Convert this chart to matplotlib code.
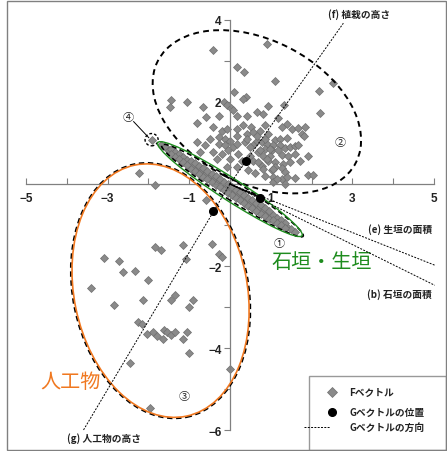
import matplotlib
matplotlib.use("Agg")
import matplotlib.pyplot as plt
from matplotlib.patches import Ellipse, Rectangle
from matplotlib.lines import Line2D

JP = ["Noto Sans CJK JP", "DejaVu Sans"]
NUM = ["Liberation Sans Narrow", "Liberation Sans", "DejaVu Sans"]

# F vectors: cluster 2 (upper, planting)
upper_x = [-0.42, 0.90, 0.17, 0.35, 1.11, 2.53, 2.19, 0.11, 0.39, 0.33, -1.44, -1.47, -1.06,
           -0.65, -0.14, -0.06, 0.02, 0.08, 2.21, 0.66, 0.82, 0.94, 1.32, 1.18, -0.58, -0.28,
           0.18, 0.43, -0.81, -0.41, -0.20, -0.06, 0.18, 0.33, 0.51, -0.49, -0.28, -0.12, 0.00,
           0.17, 0.41, 0.57, -0.81, -0.61, -0.28, -0.12, 0.08, 0.18, 0.37, 0.57, -0.41, -0.20,
           -0.04, 0.21, 0.49, 0.00, 0.29, 0.57, -0.32, -0.73, -0.08, 0.17, 0.86, 0.74, 1.41,
           1.27, 1.53, 1.66, 1.84, 1.76, 1.82, 0.94, 1.10, 1.23, 1.39, 0.66, 0.78, 0.90, 1.06,
           1.23, 1.35, 1.47, 1.59, 1.67, 0.86, 1.02, 1.18, 0.70, 0.82, 0.98, 1.27, 1.43, 1.59,
           1.92, 1.72, 0.94, 1.10, 1.31, 1.47, 0.78, 1.10, 1.27, 1.02, 1.35, 1.92, 2.04, 1.59,
           0.86, 1.06, 1.27, 1.06, 1.35, 0.66, 0.86, 0.70, 0.90, 0.82, 1.06, 0.49, 0.74, 0.98,
           0.41, 1.15, 1.39, 0.45, 0.62]
upper_y = [3.26, 3.41, 2.85, 2.72, 2.52, 2.46, 2.27, 2.24, 2.11, 2.06, 2.05, 1.88, 2.00,
           1.88, 2.00, 1.93, 1.86, 1.81, 1.74, 1.75, 1.71, 1.90, 1.93, 1.62, 1.63, 1.66,
           1.65, 1.66, 1.49, 1.39, 1.30, 1.35, 1.35, 1.44, 1.39, 1.10, 1.14, 1.10, 1.06,
           1.18, 1.22, 1.27, 1.02, 0.94, 0.98, 0.94, 0.90, 0.98, 1.02, 0.94, 0.79, 0.73,
           0.82, 0.73, 0.69, 0.61, 0.57, 0.57, 0.61, 0.78, 0.41, 0.41, 1.43, 1.30, 1.47,
           1.39, 1.35, 1.36, 1.39, 1.22, 1.17, 1.22, 1.08, 1.10, 1.12, 1.06, 1.02, 0.98, 0.95,
           0.94, 0.87, 0.90, 0.92, 0.94, 0.86, 0.82, 0.82, 0.78, 0.69, 0.69, 0.71, 0.69, 0.73,
           0.69, 0.57, 0.57, 0.53, 0.49, 0.53, 0.45, 0.41, 0.38, 0.33, 0.29, 0.22, 0.22, 0.14,
           0.20, 0.16, 0.12, 0.04, 0.00, 1.18, 1.10, 0.53, 0.61, 0.37, 0.37, 0.90, 0.82, 0.86,
           1.10, 0.12, 0.16, 0.33, 0.27]

# F vectors: cluster 1 (stone wall / hedge band)
band_x = [-1.70, -1.60, -1.50, -1.40, -1.30, -1.20, -1.10, -1.00, -0.90, -0.80, -0.70, -0.60,
          -0.50, -0.40, -0.30, -0.20, -0.10, 0.00, 0.10, 0.20, 0.30, 0.40, 0.50, 0.60, 0.70,
          0.80, 0.90, 1.00, 1.10, 1.20, 1.30, 1.40, 1.50, 1.60,
          -1.45, -1.35, -1.25, -1.15, -1.05, -0.95, -0.85, -0.75, -0.65, -0.55, -0.45, -0.35,
          -0.25, -0.15, -0.05, 0.05, 0.15, 0.25, 0.35, 0.45, 0.55, 0.65, 0.75, 0.85, 0.95,
          1.05, 1.15, 1.25, 1.35,
          -1.45, -1.35, -1.25, -1.15, -1.05, -0.95, -0.85, -0.75, -0.65, -0.55, -0.45, -0.35,
          -0.25, -0.15, -0.05, 0.05, 0.15, 0.25, 0.35, 0.45, 0.55, 0.65, 0.75, 0.85, 0.95,
          1.05, 1.15, 1.25, 1.35]
band_y = [0.95, 0.89, 0.82, 0.76, 0.69, 0.63, 0.57, 0.50, 0.44, 0.37, 0.31, 0.25,
          0.18, 0.12, 0.05, -0.01, -0.08, -0.14, -0.20, -0.27, -0.33, -0.40, -0.46, -0.53, -0.59,
          -0.65, -0.72, -0.78, -0.85, -0.91, -0.97, -1.04, -1.10, -1.17,
          0.85, 0.79, 0.72, 0.66, 0.59, 0.57, 0.51, 0.44, 0.38, 0.31, 0.25, 0.19,
          0.12, 0.06, -0.01, -0.07, -0.14, -0.20, -0.27, -0.33, -0.39, -0.46, -0.52, -0.59, -0.65,
          -0.75, -0.82, -0.88, -0.95,
          0.73, 0.67, 0.60, 0.54, 0.47, 0.37, 0.31, 0.24, 0.18, 0.11, 0.05, -0.02,
          -0.08, -0.14, -0.21, -0.27, -0.34, -0.40, -0.47, -0.53, -0.59, -0.66, -0.72, -0.79, -0.85,
          -0.87, -0.94, -1.00, -1.07]

# F vectors: cluster 3 (artificial objects)
lower_x = [-2.24, -1.83, -0.59, -1.83, -1.69, -1.16, -0.45, -0.27, -0.20, -3.08, -2.72, -2.61,
           -2.32, -2.01, -1.08, -3.40, -2.83, -2.14, -1.45, -1.35, -0.91, -1.01, -2.26, -2.15,
           -2.04, -1.88, -1.78, -1.65, -1.61, -1.55, -1.45, -1.35, -1.04, -1.14, -1.01, -2.45,
           -0.01, -1.96]
lower_y = [0.27, -0.02, -0.38, -1.53, -1.62, -1.49, -1.46, -1.71, -1.77, -1.81, -1.88, -2.14,
           -2.11, -2.33, -1.83, -2.53, -2.94, -2.84, -2.84, -2.71, -2.82, -3.00, -3.36, -3.41,
           -3.65, -3.61, -3.70, -3.77, -3.57, -3.61, -3.67, -3.61, -3.61, -3.79, -4.12, -4.37,
           -4.50, -5.45]

# cluster 4: single outlier
out_x, out_y = [-1.92], [1.08]

# G vectors: positions and direction line ends
g_pos_x = [0.39, -0.41, 0.74]
g_pos_y = [0.57, -0.65, -0.33]
g_dir_names = ["(f) 植栽の高さ", "(g) 人工物の高さ", "(e) 生垣の面積", "(b) 石垣の面積"]
g_dir_x = [2.78, -3.59, 5.02, 5.02]
g_dir_y = [3.92, -6.00, -1.98, -2.47]

fig = plt.figure(figsize=(4.47, 4.52), dpi=100)
ax = fig.add_axes([0, 0, 1, 1])
ax.set_xlim(-5.635, 5.32)
ax.set_ylim(-6.51, 4.51)

for side in ["top", "right"]:
    ax.spines[side].set_visible(False)
ax.spines["left"].set_position(("data", 0))
ax.spines["bottom"].set_position(("data", 0))
ax.spines["bottom"].set_bounds(-5, 5)
ax.spines["left"].set_bounds(-6, 4)
for side in ["left", "bottom"]:
    ax.spines[side].set_color("#808080")
    ax.spines[side].set_linewidth(0.9)

xt = list(range(-5, 6))
ax.set_xticks(xt, [f"{v}".replace("-", "\u2212") if v % 2 else "" for v in xt])
yt = list(range(-6, 5))
ax.set_yticks(yt, [f"{v}".replace("-", "\u2212") if v % 2 == 0 else "" for v in yt])
ax.tick_params(axis="x", direction="in", length=4, color="#808080", pad=6, labelsize=8.5)
ax.tick_params(axis="y", direction="out", length=4, color="#808080", pad=2, labelsize=8.5)
for lab in ax.get_xticklabels() + ax.get_yticklabels():
    lab.set_family(NUM)
    lab.set_fontweight("bold")
    lab.set_color("#222222")

pt = dict(marker="D", ms=4.3, mfc="#8a8a8a", mec="#6f6f6f", mew=0.5, ls="none", zorder=2)
ax.plot(upper_x, upper_y, **pt)
ax.plot(lower_x, lower_y, **pt)
ax.plot(band_x, band_y, **pt)
ax.plot(out_x, out_y, **pt)

# cluster ellipses
ax.add_patch(Ellipse((0.66, 1.76), 5.45, 3.50, angle=-27, fill=False, ec="black",
                     lw=1.4, ls=(0, (3, 2.2)), zorder=3))
ax.add_patch(Ellipse((-1.70, -2.60), 4.30, 6.30, angle=11.7, fill=False, ec="black",
                     lw=1.3, ls=(0, (3, 2)), zorder=3))
ax.add_patch(Ellipse((-1.70, -2.60), 4.24, 6.25, angle=11.7, fill=False, ec="#f07820",
                     lw=1.2, zorder=4))
ax.add_patch(Ellipse((0.06, -0.16), 4.12, 0.46, angle=-32.7, fill=False, ec="black",
                     lw=1.2, ls=(0, (3, 2)), zorder=3))
ax.add_patch(Ellipse((0.0, -0.125), 4.20, 0.54, angle=-32.7, fill=False, ec="#1e8c1e",
                     lw=1.0, zorder=4))
ax.add_patch(Ellipse((out_x[0], out_y[0]), 0.32, 0.30, fill=False, ec="black",
                     lw=1.0, ls=(0, (2, 1.5)), zorder=3))
ax.plot([-2.36, -1.99], [1.52, 1.13], color="black", lw=0.7, zorder=3)

# G vector directions and positions
for gx, gy in zip(g_dir_x, g_dir_y):
    ax.plot([0, gx], [0, gy], color="black", lw=0.7, ls=(0, (2, 1.4)), zorder=5)
ax.plot([0, g_pos_x[2]], [0, g_pos_y[2]], color="black", lw=1.1, zorder=5)
ax.plot(g_pos_x, g_pos_y, "o", color="black", ms=5.5, zorder=6)

tx = dict(family=JP, fontsize=7, fontweight="bold", color="#222222")
ax.text(2.41, 4.16, g_dir_names[0], ha="left", va="center", **tx)
ax.text(-3.99, -6.19, g_dir_names[1], ha="left", va="center", **tx)
ax.text(4.95, -1.08, g_dir_names[2], ha="right", va="center", **tx)
ax.text(4.95, -2.67, g_dir_names[3], ha="right", va="center", **tx)

num = dict(family=JP, fontsize=8, color="#222222", ha="center", va="center")
ax.text(1.21, -1.45, "①", **num)
ax.text(2.71, 1.02, "②", **num)
ax.text(-1.12, -5.18, "③", **num)
ax.text(-2.49, 1.64, "④", **num)

ax.text(1.03, -1.88, "石垣・生垣", family=JP, fontsize=14.5, color="#1e8c1e",
        ha="left", va="center")
ax.text(-4.65, -4.81, "人工物", family=JP, fontsize=14.5, color="#f07820",
        ha="left", va="center")

# legend box
W, H = 447.0, 452.0
ax.add_patch(Rectangle((309 / W, 1 - 451 / H), (446 - 309) / W, (451 - 377) / H,
                       transform=ax.transAxes, fill=True, fc="white", ec="#999999",
                       lw=1.0, zorder=7))
lg = dict(transform=ax.transAxes, zorder=8)
ax.add_line(Line2D([332 / W], [1 - 393 / H], marker="D", ms=5, mfc="#8a8a8a", mec="#6f6f6f",
                   mew=0.5, ls="none", **lg))
ax.add_line(Line2D([332 / W], [1 - 413 / H], marker="o", ms=5.5, color="black",
                   ls="none", **lg))
ax.add_line(Line2D([304 / W, 330 / W], [1 - 428 / H] * 2, color="black", lw=0.7,
                   ls=(0, (2, 1.4)), **lg))
lt = dict(family=JP, fontsize=7, fontweight="bold", color="#222222", ha="left",
          va="center", transform=ax.transAxes, zorder=8)
ax.text(349 / W, 1 - 393 / H, "Fベクトル", **lt)
ax.text(349 / W, 1 - 413 / H, "Gベクトルの位置", **lt)
ax.text(349 / W, 1 - 428 / H, "Gベクトルの方向", **lt)

# outer frame
fig.patches.append(Rectangle((6.5 / W, 1 - 451 / H), (446 - 6.5) / W, (451 - 1.5) / H,
                             transform=fig.transFigure, fill=False, ec="#808080", lw=1.0))

fig.savefig("out.png", dpi=100)
